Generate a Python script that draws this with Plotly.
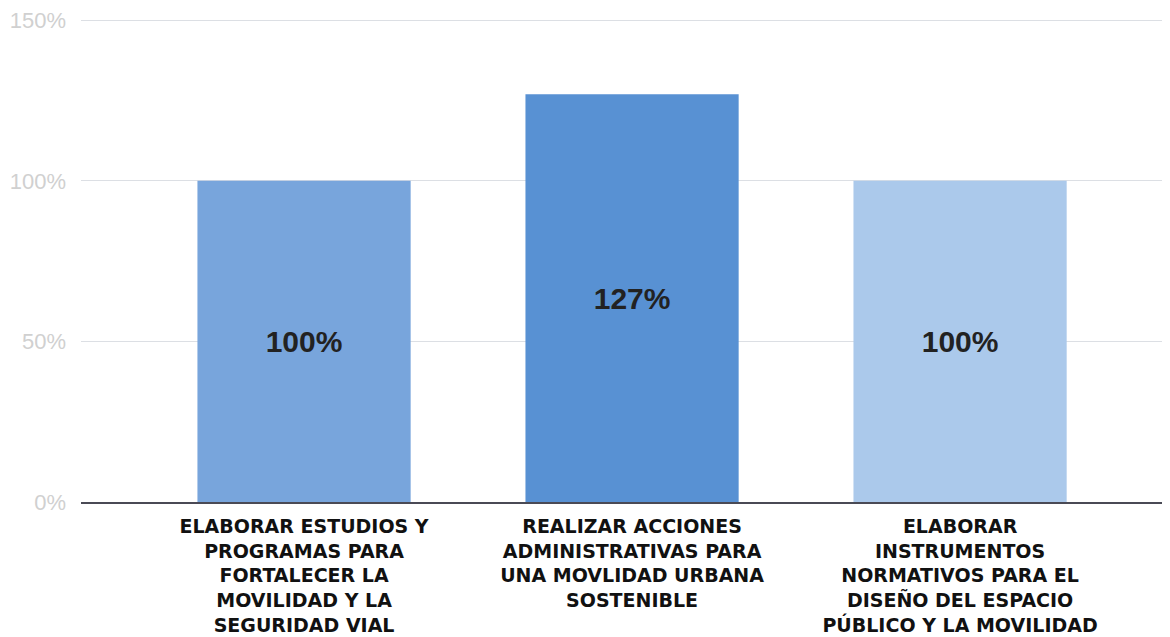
import plotly.graph_objects as go

# Data
categories = [
    "ELABORAR ESTUDIOS Y<br>PROGRAMAS PARA<br>FORTALECER LA<br>MOVILIDAD Y LA<br>SEGURIDAD VIAL",
    "REALIZAR ACCIONES<br>ADMINISTRATIVAS PARA<br>UNA MOVLIDAD URBANA<br>SOSTENIBLE",
    "ELABORAR<br>INSTRUMENTOS<br>NORMATIVOS PARA EL<br>DISEÑO DEL ESPACIO<br>PÚBLICO Y LA MOVILIDAD",
]
values = [100, 127, 100]
bar_colors = ["#78a5dc", "#5891d3", "#abc9eb"]
y_ticks = [0, 50, 100, 150]
y_tick_labels = ["0%", "50%", "100%", "150%"]

fig = go.Figure()

fig.add_trace(go.Bar(
    x=list(range(len(categories))),
    y=values,
    width=0.65,
    marker=dict(color=bar_colors, line=dict(width=0)),
    text=[f"{v}%" for v in values],
    textposition="inside",
    insidetextanchor="middle",
    textangle=0,
    textfont=dict(family="Liberation Sans, Arial, sans-serif", size=30, color="#222222"),
    texttemplate="<b>%{text}</b>",
    hoverinfo="skip",
))

# page body has an 8px margin, so margins are offset to land the plot where the original sits
fig.update_layout(
    width=1170,
    height=637,
    plot_bgcolor="white",
    paper_bgcolor="white",
    showlegend=False,
    margin=dict(l=73, r=8, t=11, b=143),
    xaxis=dict(
        tickmode="array",
        tickvals=list(range(len(categories))),
        ticktext=[f"<b>{c}</b>" for c in categories],
        range=[-0.68, 2.64],
        automargin=False,
        showgrid=False,
        showline=True,
        linecolor="#4a4a55",
        linewidth=2,
        ticks="",
        ticklabelstandoff=6,
        ticklabeloverflow="allow",
        tickfont=dict(family="DejaVu Sans, sans-serif", size=19, color="#111111"),
    ),
    yaxis=dict(
        range=[0, 150.4],
        tickmode="array",
        tickvals=y_ticks,
        ticktext=y_tick_labels,
        automargin=False,
        showgrid=True,
        gridcolor="#dcdfe4",
        gridwidth=1,
        zeroline=False,
        showline=False,
        ticks="",
        ticklabelstandoff=14,
        ticklabeloverflow="allow",
        tickfont=dict(family="Liberation Sans, Arial, sans-serif", size=22, color="#d0d0d0"),
    ),
)

fig.write_html("out.html")
